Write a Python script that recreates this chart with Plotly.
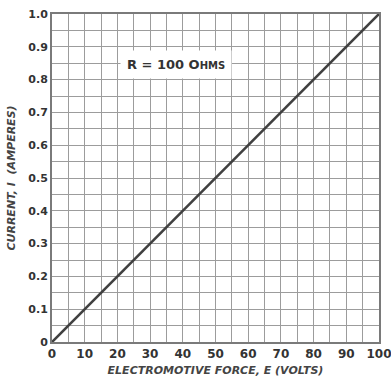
import plotly.graph_objects as go

volts = [0, 10, 20, 30, 40, 50, 60, 70, 80, 90, 100]
amps = [0, 0.1, 0.2, 0.3, 0.4, 0.5, 0.6, 0.7, 0.8, 0.9, 1.0]
x_ticks = [0, 10, 20, 30, 40, 50, 60, 70, 80, 90, 100]
x_labels = ['<b>%d</b>' % v for v in x_ticks]
y_ticks = [0, 0.1, 0.2, 0.3, 0.4, 0.5, 0.6, 0.7, 0.8, 0.9, 1.0]
y_labels = ['<b>%s</b>' % s for s in
            ['0', '0.1', '0.2', '0.3', '0.4', '0.5', '0.6', '0.7', '0.8', '0.9', '1.0']]

ink = '#333333'
grid = '#9c9c9c'

fig = go.Figure()
fig.add_trace(go.Scatter(x=volts, y=amps, mode='lines',
                         line=dict(color='#404040', width=2.6), showlegend=False))

fig.add_annotation(x=38, y=0.845,
                   text='<b>R = 100 O<span style="font-size:10px">HMS</span></b>',
                   showarrow=False, bgcolor='white', xanchor='center', yanchor='middle',
                   borderpad=6, font=dict(family='DejaVu Sans', size=13, color=ink))

fig.update_layout(
    width=391, height=386,
    margin=dict(l=52, r=12, t=14, b=44, autoexpand=False),
    paper_bgcolor='white', plot_bgcolor='white',
    font=dict(family='DejaVu Sans', color=ink, size=12),
    xaxis=dict(range=[0, 100], tickvals=x_ticks, ticktext=x_labels, ticks='',
               showline=True, linecolor='#7a7a7a', linewidth=2, mirror=True,
               showgrid=True, gridcolor=grid, gridwidth=1.3,
               minor=dict(dtick=5, showgrid=True, gridcolor=grid, gridwidth=1.3),
               zeroline=False, automargin=False, ticklabeloverflow='allow',
               tickfont=dict(size=12, color=ink, family='DejaVu Sans'),
               title=dict(text='<b><i>ELECTROMOTIVE FORCE, E (VOLTS)</i></b>', standoff=6,
                          font=dict(size=11, color='#444'))),
    yaxis=dict(range=[0, 1.0], tickvals=y_ticks, ticktext=y_labels, ticks='',
               showline=True, linecolor='#7a7a7a', linewidth=2, mirror=True,
               showgrid=True, gridcolor=grid, gridwidth=1.3,
               minor=dict(dtick=0.05, showgrid=True, gridcolor=grid, gridwidth=1.3),
               zeroline=False, automargin=False, ticklabeloverflow='allow',
               tickfont=dict(size=11, color=ink, family='DejaVu Sans'),
               title=dict(text='<b><i>CURRENT, I  (AMPERES)</i></b>', standoff=10,
                          font=dict(size=11, color='#444'))),
)

# drop the default 8px page margin so the figure fills the window
fig.write_html("out.html", config={'displayModeBar': False},
               post_script="document.body.style.margin='0';")
